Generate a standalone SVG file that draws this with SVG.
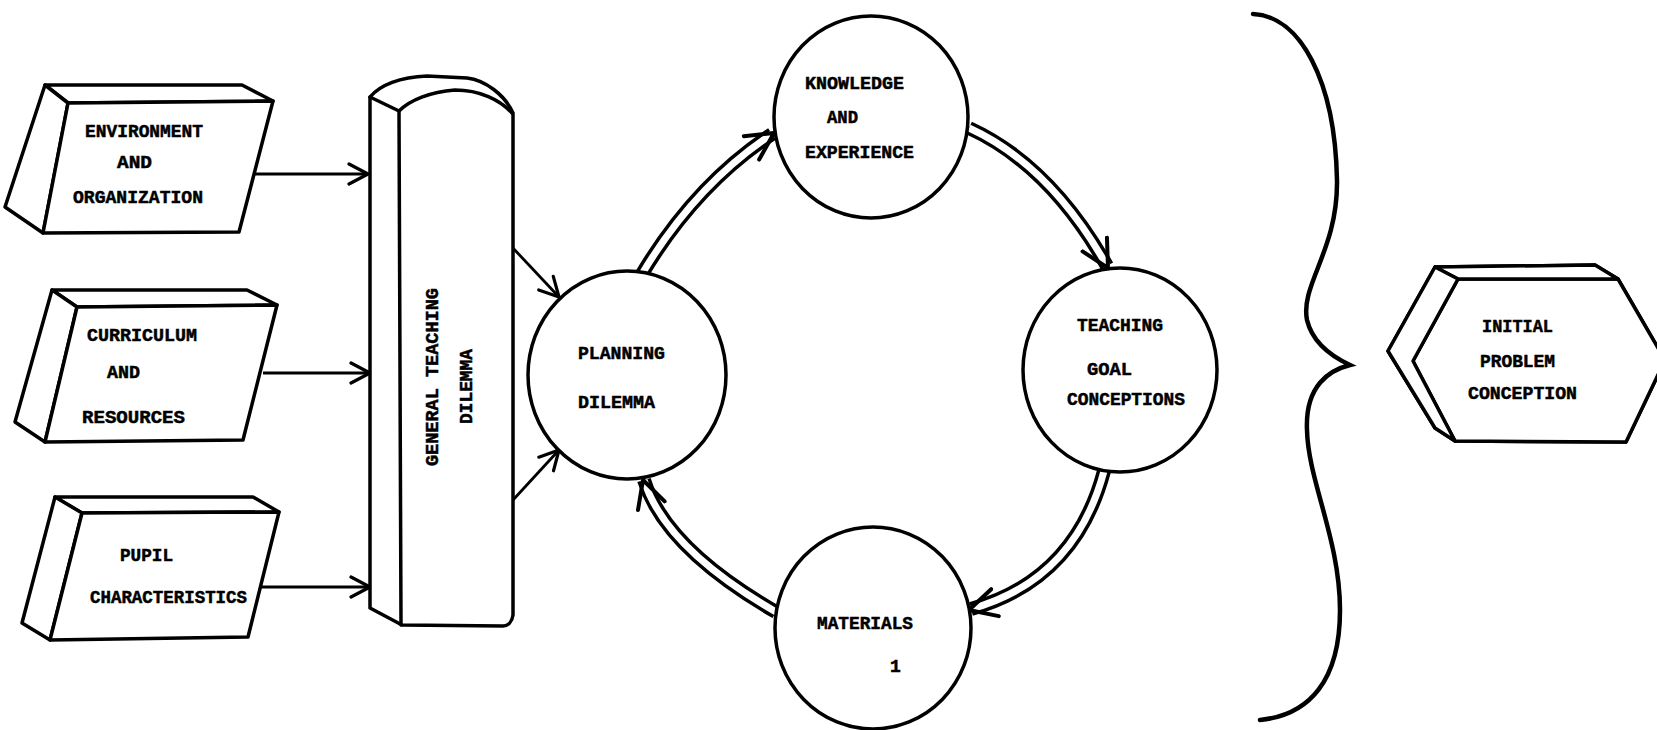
<svg xmlns="http://www.w3.org/2000/svg" width="1657" height="730" viewBox="0 0 1657 730">
<style>
.s{fill:#fff;stroke:#000;stroke-width:3.5;stroke-linejoin:round}
.l{fill:none;stroke:#000;stroke-width:3.5;stroke-linejoin:round;stroke-linecap:round}
.a{fill:none;stroke:#000;stroke-width:2.8}
.dbo{fill:none;stroke:#000;stroke-width:14}
.dbi{fill:none;stroke:#fff;stroke-width:7}
.t{font-family:"Liberation Mono","DejaVu Sans Mono",monospace;font-weight:bold;font-size:18px;fill:#000;stroke:#000;stroke-width:0.5}
</style>
<defs>
<marker id="v" viewBox="0 0 22 24" refX="21" refY="12" markerWidth="22" markerHeight="24" markerUnits="userSpaceOnUse" orient="auto">
<path d="M2,2 L21,12 L2,22" fill="none" stroke="#000" stroke-width="3.2" stroke-linecap="round" stroke-linejoin="round"/>
</marker>
<marker id="dv" viewBox="0 0 30 34" refX="29" refY="17" markerWidth="30" markerHeight="34" markerUnits="userSpaceOnUse" orient="auto">
<path d="M2,3 L29,17 L2,31" fill="none" stroke="#000" stroke-width="4" stroke-linecap="round" stroke-linejoin="round"/>
</marker>
</defs>
<rect width="1657" height="730" fill="#fff"/>

<g id="connectors">
<line class="a" x1="253" y1="174" x2="368" y2="174" marker-end="url(#v)"/>
<line class="a" x1="263" y1="373" x2="370" y2="373" marker-end="url(#v)"/>
<line class="a" x1="258" y1="587" x2="370" y2="587" marker-end="url(#v)"/>
<line class="a" x1="512" y1="247" x2="559" y2="297" marker-end="url(#v)"/>
<line class="a" x1="513" y1="500" x2="559" y2="450" marker-end="url(#v)"/>
<path class="dbo" d="M642,274 Q695,185 772,134"/>
<path class="dbi" d="M642,274 Q695,185 772,134"/>
<path class="dbo" d="M969,128 Q1050,165 1107,266"/>
<path class="dbi" d="M969,128 Q1050,165 1107,266"/>
<path class="dbo" d="M1104,471 Q1075,580 971,609"/>
<path class="dbi" d="M1104,471 Q1075,580 971,609"/>
<path class="dbo" d="M776,612 Q665,548 644,480"/>
<path class="dbi" d="M776,612 Q665,548 644,480"/>
<path d="M642,274 Q695,185 774,133" fill="none" stroke="none" marker-end="url(#dv)"/>
<path d="M969,128 Q1050,165 1108,268" fill="none" stroke="none" marker-end="url(#dv)"/>
<path d="M1104,471 Q1075,580 969,610" fill="none" stroke="none" marker-end="url(#dv)"/>
<path d="M776,612 Q665,548 643,480" fill="none" stroke="none" marker-end="url(#dv)"/>
</g>

<g id="env">
<polygon class="s" points="45,85 242,85 273,101 68,103"/>
<polygon class="s" points="45,85 68,103 43,233 5,207"/>
<polygon class="s" points="68,103 273,101 239,232 43,233"/>
<text class="t" x="85" y="137" textLength="118" lengthAdjust="spacingAndGlyphs">ENVIRONMENT</text>
<text class="t" x="117" y="168" textLength="35" lengthAdjust="spacingAndGlyphs">AND</text>
<text class="t" x="73" y="203" textLength="130" lengthAdjust="spacingAndGlyphs">ORGANIZATION</text>
</g>

<g id="curriculum">
<polygon class="s" points="52,290 247,290 277,305 77,307"/>
<polygon class="s" points="52,290 77,307 45,442 15,422"/>
<polygon class="s" points="77,307 277,305 243,440 45,442"/>
<text class="t" x="87" y="341" textLength="110" lengthAdjust="spacingAndGlyphs">CURRICULUM</text>
<text class="t" x="107" y="378" textLength="33" lengthAdjust="spacingAndGlyphs">AND</text>
<text class="t" x="82" y="423" textLength="103" lengthAdjust="spacingAndGlyphs">RESOURCES</text>
</g>

<g id="pupil">
<polygon class="s" points="55,497 253,497 279,512 82,513"/>
<polygon class="s" points="55,497 82,513 50,640 22,623"/>
<polygon class="s" points="82,513 279,512 248,637 50,640"/>
<text class="t" x="120" y="561" textLength="53" lengthAdjust="spacingAndGlyphs">PUPIL</text>
<text class="t" x="90" y="603" textLength="157" lengthAdjust="spacingAndGlyphs">CHARACTERISTICS</text>
</g>

<g id="general">
<path class="s" d="M370,97 C380,85 400,77 427,76 L467,78 C485,80 505,95 513,113 L513,615 C512,622 508,626 503,626 L402,625 L370,608 Z"/>
<path class="l" d="M370,97 L399,111 L401,625"/>
<path class="l" d="M399,111 C410,100 430,92 455,90 C480,90 500,100 512,113"/>
<text class="t" transform="translate(438,466) rotate(-90)" textLength="178" lengthAdjust="spacingAndGlyphs">GENERAL  TEACHING</text>
<text class="t" transform="translate(472,424) rotate(-90)" textLength="75" lengthAdjust="spacingAndGlyphs">DILEMMA</text>
</g>

<g id="planning">
<ellipse class="s" cx="627" cy="375" rx="99" ry="104"/>
<text class="t" x="578" y="359" textLength="87" lengthAdjust="spacingAndGlyphs">PLANNING</text>
<text class="t" x="578" y="408" textLength="77" lengthAdjust="spacingAndGlyphs">DILEMMA</text>
</g>

<g id="knowledge">
<ellipse class="s" cx="871" cy="117" rx="97" ry="101"/>
<text class="t" x="805" y="89" textLength="99" lengthAdjust="spacingAndGlyphs">KNOWLEDGE</text>
<text class="t" x="827" y="123" textLength="31" lengthAdjust="spacingAndGlyphs">AND</text>
<text class="t" x="805" y="158" textLength="109" lengthAdjust="spacingAndGlyphs">EXPERIENCE</text>
</g>

<g id="teaching">
<ellipse class="s" cx="1120" cy="370" rx="97" ry="102"/>
<text class="t" x="1077" y="331" textLength="86" lengthAdjust="spacingAndGlyphs">TEACHING</text>
<text class="t" x="1087" y="375" textLength="45" lengthAdjust="spacingAndGlyphs">GOAL</text>
<text class="t" x="1067" y="405" textLength="118" lengthAdjust="spacingAndGlyphs">CONCEPTIONS</text>
</g>

<g id="materials">
<ellipse class="s" cx="873" cy="628" rx="98" ry="101"/>
<text class="t" x="817" y="629" textLength="96" lengthAdjust="spacingAndGlyphs">MATERIALS</text>
<text class="t" x="890" y="672" font-size="20">1</text>
</g>

<g id="brace">
<path d="M1253,14 C1300,16 1335,80 1337,180 C1338,250 1300,285 1307,320 C1313,345 1335,358 1350,365 C1330,370 1305,385 1307,430 C1308,480 1340,540 1340,610 C1340,680 1310,715 1260,720" fill="none" stroke="#000" stroke-width="4.5" stroke-linecap="round"/>
</g>

<g id="initial">
<polygon class="s" points="1388,351 1435,267 1595,265 1618,279 1665,360 1626,442 1455,441 1435,428"/>
<polygon class="s" points="1413,361 1458,279 1618,279 1665,360 1626,442 1455,441"/>
<polygon class="s" points="1435,267 1595,265 1618,279 1458,279"/>
<polygon class="s" points="1388,351 1435,267 1458,279 1413,361 1455,441 1435,428"/>
<text class="t" x="1482" y="332" textLength="71" lengthAdjust="spacingAndGlyphs">INITIAL</text>
<text class="t" x="1480" y="367" textLength="75" lengthAdjust="spacingAndGlyphs">PROBLEM</text>
<text class="t" x="1468" y="399" textLength="109" lengthAdjust="spacingAndGlyphs">CONCEPTION</text>
</g>
</svg>
